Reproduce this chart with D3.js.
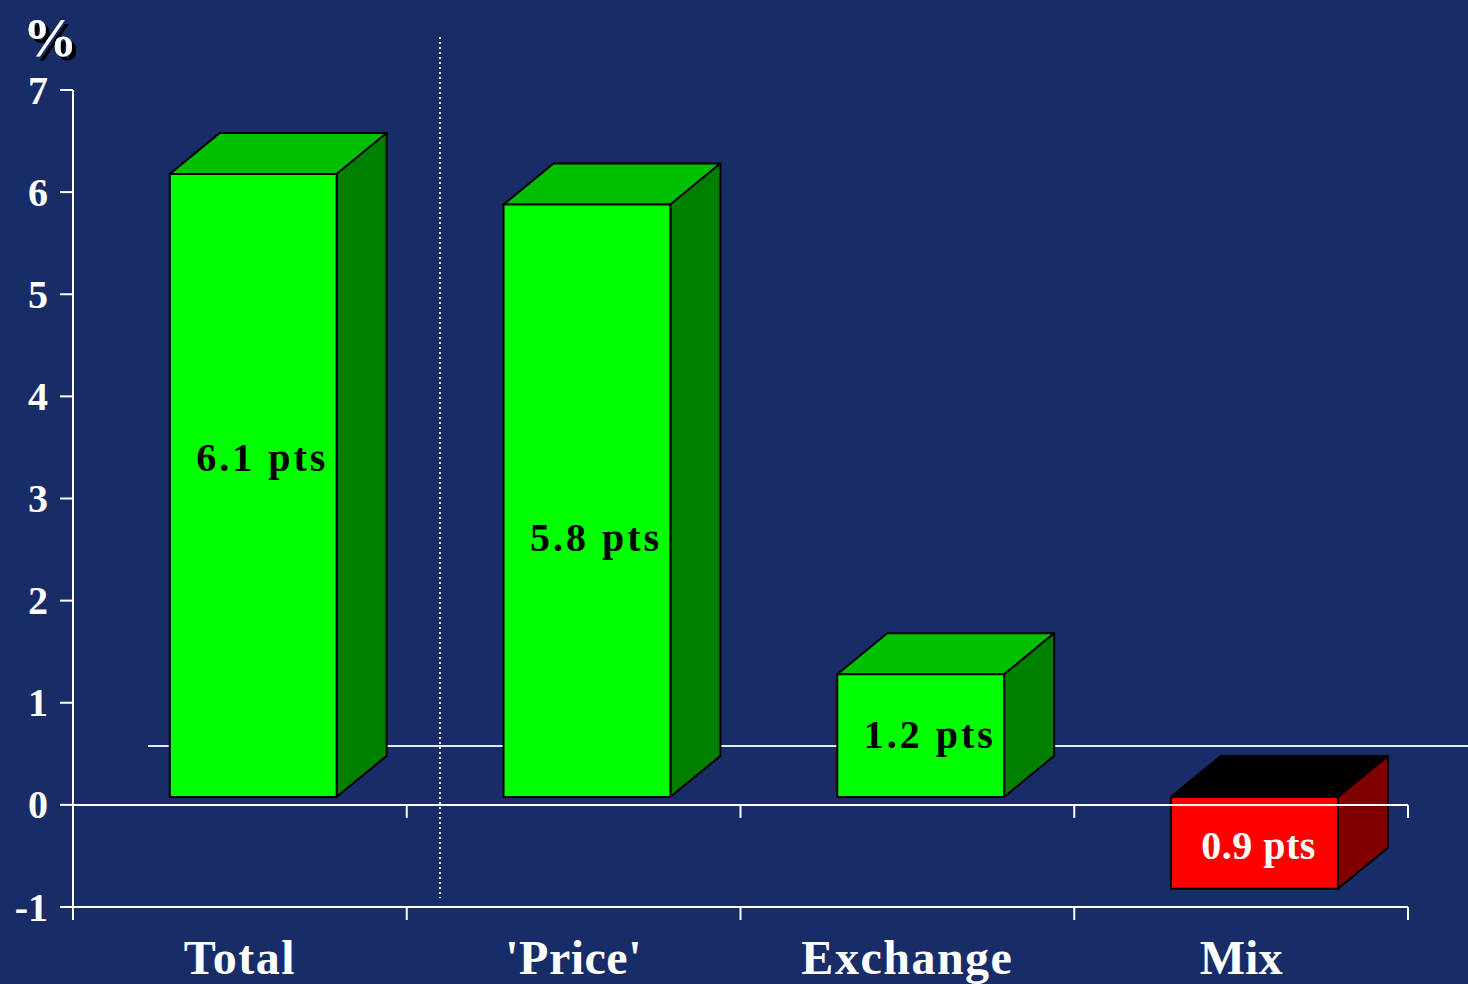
<!DOCTYPE html>
<html><head><meta charset="utf-8">
<script src="https://cdn.jsdelivr.net/npm/d3@7"></script>
<style>
html,body{margin:0;padding:0;background:#182c68;}
svg{display:block;}
text{font-family:"Liberation Serif","Times New Roman",serif;font-weight:bold;}
</style></head>
<body>
<svg id="chart" width="1468" height="984"></svg>
<script>
const categories = ["Total", "'Price'", "Exchange", "Mix"];
const values = [6.1, 5.8, 1.2, -0.9];
const barLabels = ["6.1 pts", "5.8 pts", "1.2 pts", "0.9 pts"];
const labelAt = [3.33, 2.54, 0.62, -0.47];
const yTicks = [-1, 0, 1, 2, 3, 4, 5, 6, 7];

const svg = d3.select("#chart");
const W = 1468, H = 984;
svg.append("rect").attr("width", W).attr("height", H).attr("fill", "#182c68");

const defs = svg.append("defs");
const f = defs.append("filter").attr("id", "shadow").attr("x", "-20%").attr("y", "-20%").attr("width", "150%").attr("height", "150%");
f.append("feDropShadow").attr("dx", 4).attr("dy", 4).attr("stdDeviation", 0).attr("flood-color", "#000").attr("flood-opacity", 1);

const y = d3.scaleLinear().domain([-1, 7]).range([907, 90]);
const x = d3.scaleBand().domain(categories).range([73, 1408]).padding(0);
const bw = x.bandwidth();
const frontOff = 0.29, frontW = 0.5;
const depthX = 50, depthY = -41, floorOff = -8;

// back wall reference line
svg.append("line").attr("x1", 148).attr("x2", W).attr("y1", 746).attr("y2", 746)
  .attr("stroke", "#e8e8e8").attr("stroke-width", 2);

// bars
const g = svg.append("g");
categories.forEach((c, i) => {
  const v = values[i];
  const pos = v >= 0;
  const x0 = x(c) + bw * frontOff;
  const x1 = x0 + bw * frontW;
  const yTop = y(Math.max(v, 0)) + floorOff;
  const yBot = y(Math.min(v, 0)) + floorOff;
  const front = pos ? "#00ff00" : "#ff0000";
  const top = pos ? "#00c000" : "#000000";
  const side = pos ? "#007f00" : "#800000";
  const poly = (pts, fill) => {
    g.append("path").attr("d", "M" + pts.map(q => q.join(",")).join("L") + "Z")
      .attr("fill", fill).attr("stroke", "#000").attr("stroke-width", 2).attr("stroke-linejoin", "round");
  };
  poly([[x0, yTop], [x0 + depthX, yTop + depthY], [x1 + depthX, yTop + depthY], [x1, yTop]], top);
  poly([[x1, yTop], [x1 + depthX, yTop + depthY], [x1 + depthX, yBot + depthY], [x1, yBot]], side);
  poly([[x0, yTop], [x1, yTop], [x1, yBot], [x0, yBot]], front);

  g.append("text")
    .attr("x", (x0 + x1) / 2 + (pos ? 9 : 4))
    .attr("y", y(labelAt[i]) + floorOff)
    .attr("dy", "0.35em")
    .attr("text-anchor", "middle")
    .attr("font-size", 40)
    .attr("letter-spacing", pos ? 3 : 0.5)
    .attr("fill", pos ? "#000" : "#fff")
    .text(barLabels[i]);
});

// axes
const ax = svg.append("g").attr("stroke", "#ffffff").attr("stroke-width", 2);
ax.append("line").attr("x1", 73).attr("x2", 73).attr("y1", y(7)).attr("y2", y(-1) + 13);
yTicks.forEach(t => {
  ax.append("line").attr("x1", 60).attr("x2", 73).attr("y1", y(t)).attr("y2", y(t));
});
[0, -1].forEach(t => {
  ax.append("line").attr("x1", 73).attr("x2", 1408).attr("y1", y(t)).attr("y2", y(t));
  categories.forEach(c => {
    const xe = x(c) + bw;
    ax.append("line").attr("x1", xe).attr("x2", xe).attr("y1", y(t)).attr("y2", y(t) + 13);
  });
});

// tick labels
svg.append("g").selectAll("text").data(yTicks).join("text")
  .attr("x", 48).attr("y", d => y(d)).attr("dy", "0.34em")
  .attr("text-anchor", "end").attr("font-size", 40).attr("fill", "#fff")
  .text(d => d);

// category labels
svg.append("g").selectAll("text").data(categories).join("text")
  .attr("x", d => x(d) + bw / 2).attr("y", 974)
  .attr("text-anchor", "middle").attr("font-size", 48).attr("fill", "#fff")
  .attr("letter-spacing", d => d === "Mix" ? 0 : (d === "'Price'" ? 0.5 : 1.5))
  .text(d => d);

// dotted separator
svg.append("line").attr("x1", 440).attr("x2", 440).attr("y1", 37).attr("y2", 898)
  .attr("stroke", "#e8e8e8").attr("stroke-width", 2).attr("stroke-dasharray", "2,3");

// % unit with shadow
svg.append("text").attr("x", 23).attr("y", 56).attr("font-size", 54).attr("fill", "#fff")
  .attr("filter", "url(#shadow)").text("%");
</script>
</body></html>
